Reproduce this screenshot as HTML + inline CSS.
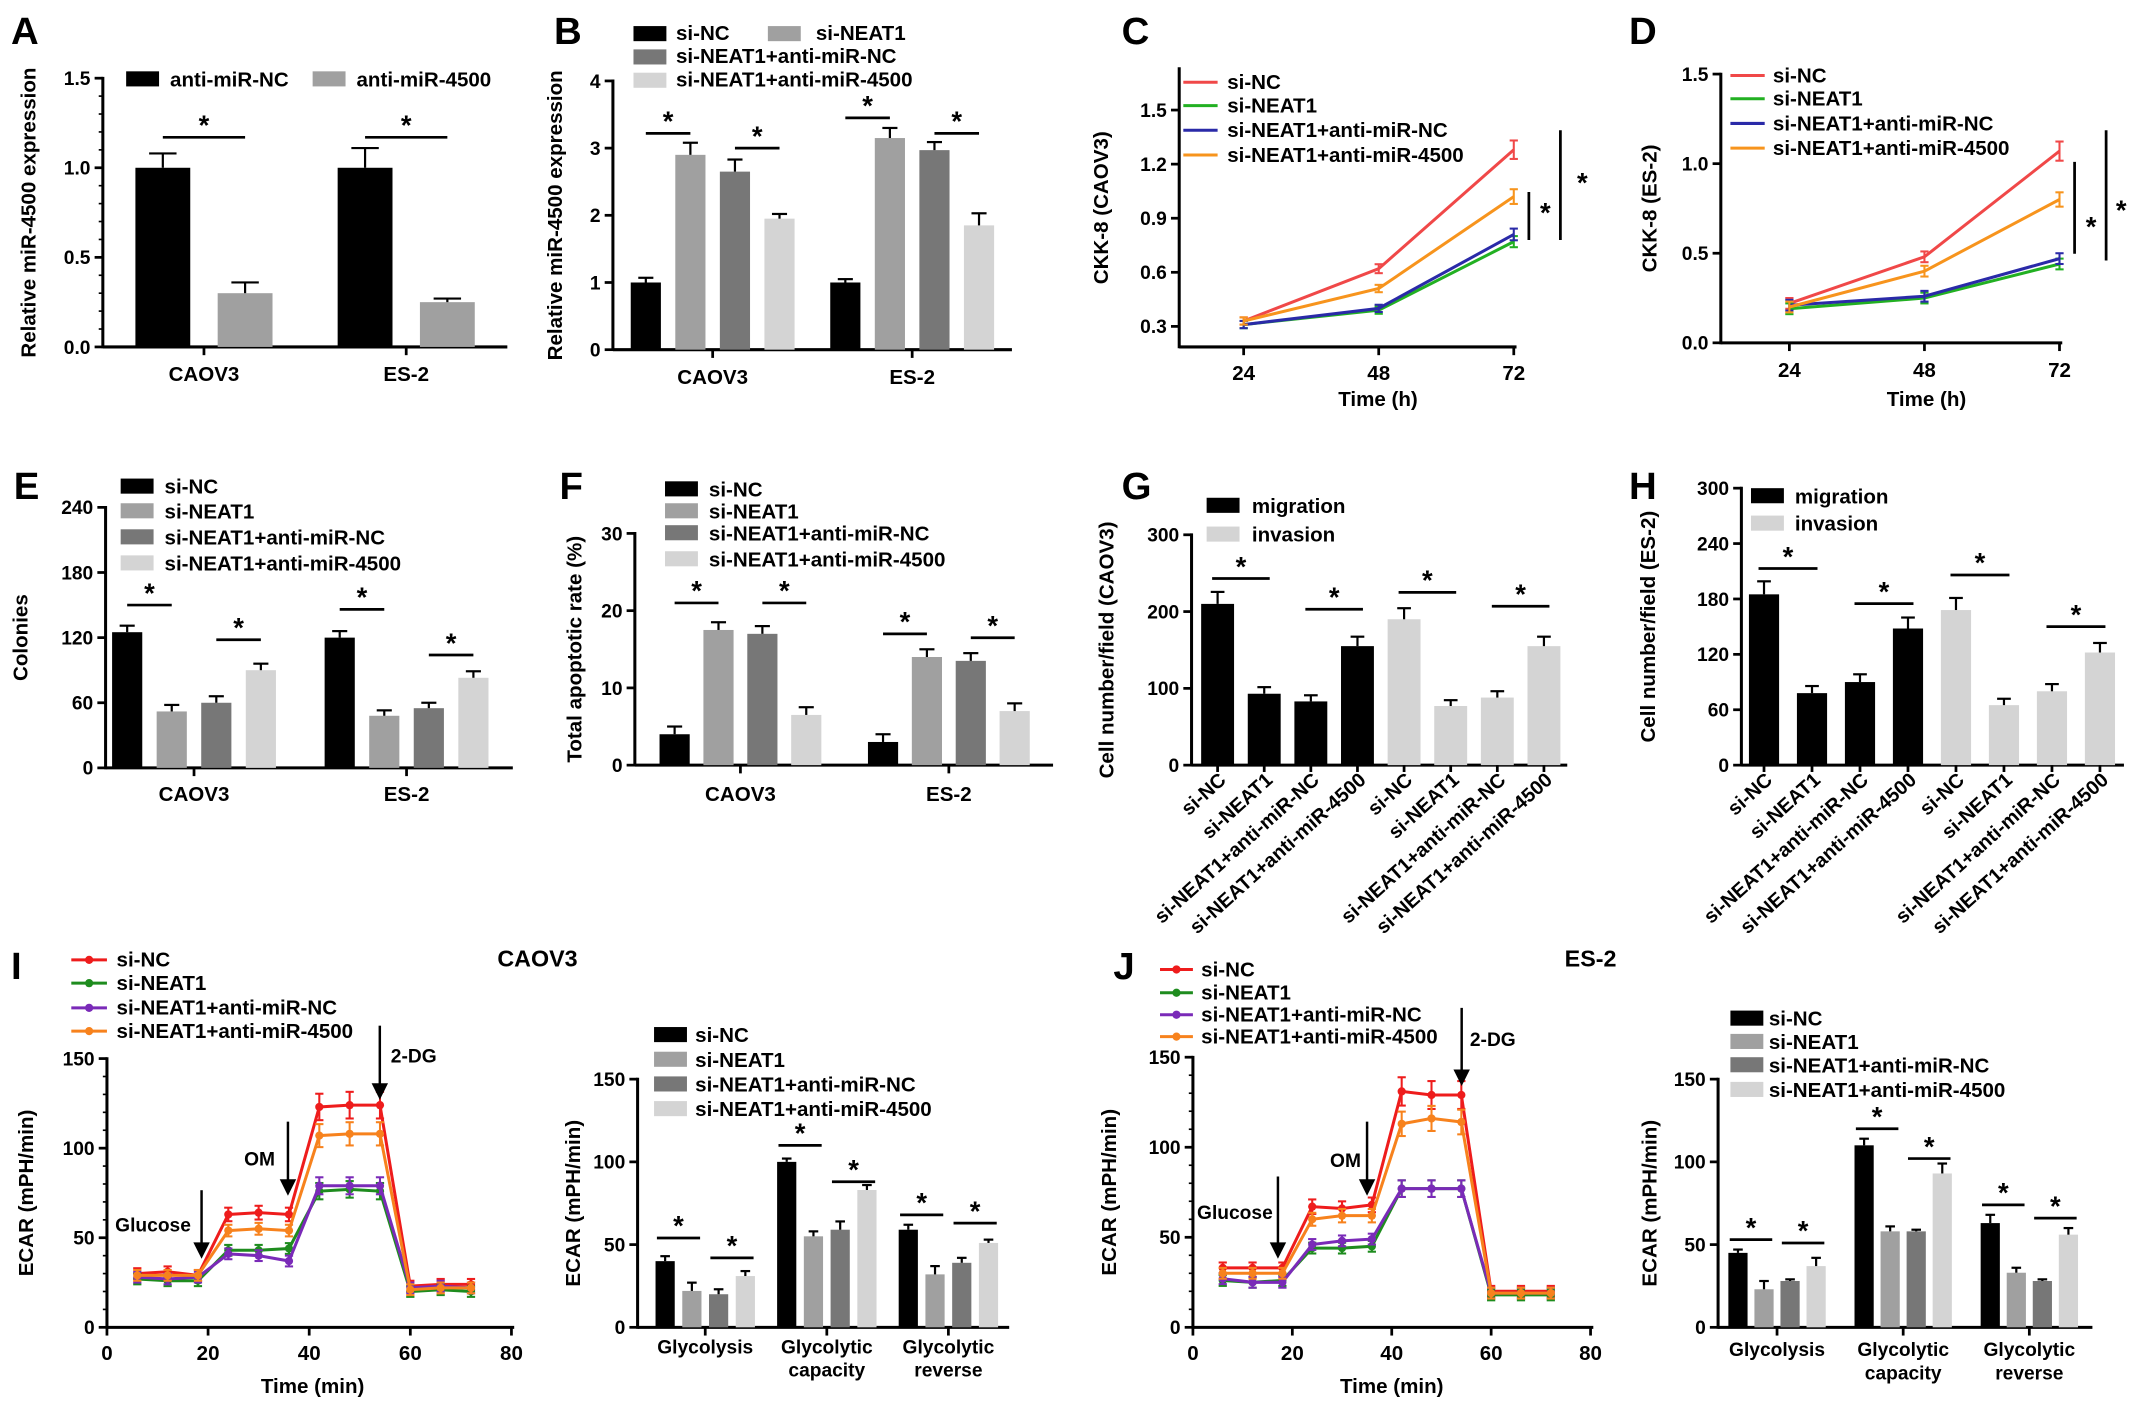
<!DOCTYPE html>
<html><head><meta charset="utf-8"><style>
html,body{margin:0;padding:0;background:#fff;}
svg{display:block;font-family:"Liberation Sans",Arial,sans-serif;font-weight:bold;}
</style></head><body>
<svg id="fig" xmlns="http://www.w3.org/2000/svg" width="2150" height="1411" viewBox="0 0 1568 1029"></svg>
<script>
// ---------- DATA ----------
const A_groups=['CAOV3','ES-2'];
const A_nc=[1.0,1.0], A_nc_err=[0.08,0.11];
const A_mir=[0.3,0.25], A_mir_err=[0.06,0.02];
const A_ticks=['0.0','0.5','1.0','1.5'];

const B_groups=['CAOV3','ES-2'];
const B_siNC=[1.0,1.0], B_siNEAT1=[2.9,3.15], B_mirNC=[2.65,2.97], B_mir4500=[1.95,1.85];
const B_ticks=['0','1','2','3','4'];

const C_time=[24,48,72];
const C_siNC=[0.33,0.62,1.28], C_siNEAT1=[0.31,0.39,0.77], C_mirNC=[0.31,0.40,0.81], C_mir4500=[0.33,0.51,1.02];
const C_ticks=['0.3','0.6','0.9','1.2','1.5'];

const D_time=[24,48,72];
const D_siNC=[0.22,0.48,1.07], D_siNEAT1=[0.19,0.25,0.44], D_mirNC=[0.21,0.26,0.47], D_mir4500=[0.20,0.40,0.80];
const D_ticks=['0.0','0.5','1.0','1.5'];

const E_groups=['CAOV3','ES-2'];
const E_siNC=[125,120], E_siNEAT1=[52,48], E_mirNC=[60,55], E_mir4500=[90,83];
const E_ticks=['0','60','120','180','240'];

const F_groups=['CAOV3','ES-2'];
const F_siNC=[4,3], F_siNEAT1=[17.5,14], F_mirNC=[17,13.5], F_mir4500=[6.5,7];
const F_ticks=['0','10','20','30'];

const G_cats=['si-NC','si-NEAT1','si-NEAT1+anti-miR-NC','si-NEAT1+anti-miR-4500','si-NC','si-NEAT1','si-NEAT1+anti-miR-NC','si-NEAT1+anti-miR-4500'];
const G_values=[210,93,83,155,190,77,88,155];
const G_ticks=['0','100','200','300'];

const H_cats=G_cats;
const H_values=[185,78,90,148,168,65,80,122];
const H_ticks=['0','60','120','180','240','300'];

const I_time=[6,12,18,24,30,36,42,48,54,60,66,72];
const I_siNC=[30,31,29,63,64,63,123,124,124,23,24,24];
const I_siNEAT1=[27,26,26,43,43,44,76,77,76,20,21,20];
const I_mirNC=[28,27,28,41,40,37,79,79,79,22,23,22];
const I_mir4500=[29,29,29,54,55,54,107,108,108,21,22,22];
const I_xticks=['0','20','40','60','80'];
const I_yticks=['0','50','100','150'];

const IB_groups=['Glycolysis','Glycolytic|capacity','Glycolytic|reverse'];
const IB_siNC=[40,100,59], IB_siNEAT1=[22,55,32], IB_mirNC=[20,59,39], IB_mir4500=[31,83,51];
const IB_ticks=['0','50','100','150'];

const J_time=I_time;
const J_siNC=[33,33,33,67,66,68,131,129,129,20,20,20];
const J_siNEAT1=[26,25,26,44,44,45,77,77,77,18,18,18];
const J_mirNC=[27,25,25,46,48,49,77,77,77,19,19,19];
const J_mir4500=[30,30,30,60,62,62,113,116,114,19,19,19];

const JB_groups=IB_groups;
const JB_siNC=[45,110,63], JB_siNEAT1=[23,58,33], JB_mirNC=[28,58,28], JB_mir4500=[37,93,56];

// ---------- HELPERS ----------
const svg=document.getElementById('fig');
const NS='http://www.w3.org/2000/svg';
function mk(tag,attrs,name,parent){
  const e=document.createElementNS(NS,tag);
  for(const k in attrs) e.setAttribute(k,attrs[k]);
  
  
  (parent||svg).appendChild(e);
  return e;
}
function txt(x,y,s,size,name,anchor,extra){
  const a=Object.assign({x:x,y:y,'font-size':size,'text-anchor':anchor||'start',fill:'#000'},extra||{});
  const t=mk('text',a,name); t.textContent=s; return t;
}
function line(x1,y1,x2,y2,w,name,col){return mk('line',{x1:x1,y1:y1,x2:x2,y2:y2,stroke:col||'#000','stroke-width':w||2},name);}
const COL=['#000000','#a0a0a0','#777777','#d4d4d4'];
const LCOL=['#f04848','#22b022','#2a2aa8','#f7941d'];
const ICOL=['#ee1c1c','#1e8c1e','#7a2ab8','#f7821d'];
const SER=['si-NC','si-NEAT1','si-NEAT1+anti-miR-NC','si-NEAT1+anti-miR-4500'];

function yAxis(p,ticks,title,tx){
  const sy=v=>p.y0-(v-p.vmin)/(p.vmax-p.vmin)*(p.y0-p.yT);
  line(p.ax,sy(p.vmin)+1,p.ax,p.yT-1,2.2,p.id+'-y-axis');
  ticks.forEach(t=>{const y=sy(+t);line(p.ax-6,y,p.ax,y,2,p.id+'-y-tick');txt(p.ax-9,y+5,t,14,p.id+'-y-tick-label','end');});
  if(p.minor){for(let v=p.vmin;v<=p.vmax+1e-9;v+=p.minor){line(p.ax-3,sy(v),p.ax,sy(v),1.2,p.id+'-y-minor-tick');}}
  txt(0,0,title,15,p.id+'-y-axis-title','middle',{transform:`translate(${tx},${(p.y0+p.yT)/2}) rotate(-90)`});
  return sy;
}
function legendBoxes(x,ys,labels,cols,id,tx){
  labels.forEach((l,i)=>{mk('rect',{x:x,y:ys[i]-6,width:24,height:11,fill:cols[i]},id+'-legend-swatch');txt(tx,ys[i]+5,l,15,id+'-legend-entry');});
}
function star(x1,x2,y,id){line(x1,y,x2,y,2,id+'-sig-line');txt((x1+x2)/2,y-2,'*',20,id+'-sig-star','middle');}

function groupedBars(p,series,errs,groups,ticks,title,tx,sigs,labelY){
  const sy=yAxis(p,ticks,title,tx);
  const gw=(p.b1-p.b0)/groups.length;
  line(p.ax,p.y0,p.b1,p.y0,2.2,p.id+'-x-axis');
  const k=series.length, centers=[];
  groups.forEach((g,gi)=>{
    const gc=p.b0+(gi+0.5)*gw;
    line(gc,p.y0,gc,p.y0+6,2,p.id+'-x-tick');
    const parts=g.split('|');
    parts.forEach((s,j)=>txt(gc,labelY+j*17,s,p.lfs||15,p.id+'-x-tick-label','middle'));
    series.forEach((vals,si)=>{
      const cx=gc+(si-(k-1)/2)*p.pitch; centers.push(cx);
      const v=vals[gi], y=sy(v), e=(errs?errs[si][gi]:0);
      mk('rect',{x:cx-p.bw/2,y:y,width:p.bw,height:p.y0-y,fill:p.cols[si]},p.id+'-bar-'+SER[si].toLowerCase().replace(/[^a-z0-9]+/g,'-')+'-'+gi);
      if(e){line(cx,y,cx,sy(v+e),1.6,p.id+'-error-bar');line(cx-p.bw/4,sy(v+e),cx+p.bw/4,sy(v+e),1.6,p.id+'-error-cap');}
    });
  });
  const ext=p.sigExt||0;
  (sigs||[]).forEach(s=>{const a=centers[s[0]],b=centers[s[1]];star(a-ext,b+ext,sy(s[2]),p.id);});
  return sy;
}
function singleBars(p,values,cats,cols,ticks,title,tx,sigs){
  const sy=yAxis(p,ticks,title,tx);
  line(p.ax,p.y0,p.b1,p.y0,2.2,p.id+'-x-axis');
  const gw=(p.b1-p.b0)/values.length, centers=[];
  values.forEach((v,i)=>{
    const cx=p.b0+(i+0.5)*gw; centers.push(cx); const y=sy(v);
    mk('rect',{x:cx-p.bw/2,y:y,width:p.bw,height:p.y0-y,fill:cols[i]},p.id+'-bar-'+i);
    line(cx,y,cx,sy(v+v*0.06+3),1.6,p.id+'-error-bar');line(cx-5,sy(v+v*0.06+3),cx+5,sy(v+v*0.06+3),1.6,p.id+'-error-cap');
    line(cx,p.y0,cx,p.y0+5,2,p.id+'-x-tick');
    txt(cx+7,p.y0+12,cats[i],14.5,p.id+'-x-tick-label','end',{transform:`rotate(-42 ${cx+7} ${p.y0+12})`});
  });
  sigs.forEach(s=>{star(centers[s[0]]-4,centers[s[1]]+4,sy(s[2]),p.id);});
}
function lineChart(p,times,series,cols,ticks,xticks,title,tx,markers,errFrac){
  const sy=yAxis(p,ticks,title,tx);
  const sx=t=>p.x0+(t-p.tmin)/(p.tmax-p.tmin)*(p.x1-p.x0);
  line(p.ax,p.y0,p.x1+2,p.y0,2.2,p.id+'-x-axis');
  xticks.forEach(t=>{line(sx(+t),p.y0,sx(+t),p.y0+6,2,p.id+'-x-tick');txt(sx(+t),p.y0+24,t,15,p.id+'-x-tick-label','middle');});
  series.forEach((vals,si)=>{
    const pts=vals.map((v,i)=>sx(times[i])+','+sy(v)).join(' ');
    mk('polyline',{points:pts,fill:'none',stroke:cols[si],'stroke-width':2.2},p.id+'-line-'+SER[si].toLowerCase().replace(/[^a-z0-9]+/g,'-'));
    vals.forEach((v,i)=>{
      const x=sx(times[i]), e=Math.max(v*errFrac,p.emin);
      line(x,sy(v-e),x,sy(v+e),1.5,p.id+'-error-bar',cols[si]);
      line(x-3,sy(v+e),x+3,sy(v+e),1.5,p.id+'-error-cap',cols[si]);
      line(x-3,sy(v-e),x+3,sy(v-e),1.5,p.id+'-error-cap',cols[si]);
      if(markers) mk('circle',{cx:x,cy:sy(v),r:3,fill:cols[si]},p.id+'-point');
    });
  });
  return {sx,sy};
}
function lineLegend(x1,x2,tx,ys,cols,id,markers){
  SER.forEach((s,i)=>{line(x1,ys[i],x2,ys[i],2.2,id+'-legend-line',cols[i]);
    if(markers) mk('circle',{cx:(x1+x2)/2,cy:ys[i],r:3,fill:cols[i]},id+'-legend-marker');
    txt(tx,ys[i]+5,s,15,id+'-legend-entry');});
}
function arrow(x,y1,y2,id){line(x,y1,x,y2-8,1.8,id+'-arrow-shaft');mk('polygon',{points:`${x-6},${y2-12} ${x+6},${y2-12} ${x},${y2}`,fill:'#000'},id+'-arrow-head');}

[['A',8,32],['B',404,32],['C',818,32],['D',1188,32],['E',10,364],['F',408,364],['G',818,364],['H',1188,364],['I',8,714],['J',812,714]].forEach(l=>txt(l[1],l[2],l[0],28,'panel-label-'+l[0].toLowerCase()));

// ---------- A ----------
groupedBars({id:'a',ax:75,b0:75,b1:370,y0:253,yT:57,vmin:0,vmax:1.5,pitch:60,bw:40,cols:[COL[0],COL[1]],minor:0.1},
  [A_nc,A_mir],[A_nc_err,A_mir_err],A_groups,A_ticks,'Relative miR-4500 expression',26,[[0,1,1.17],[2,3,1.17]],278);
mk('rect',{x:92,y:52,width:24,height:11,fill:COL[0]},'a-legend-swatch');txt(124,63,'anti-miR-NC',15,'a-legend-entry');
mk('rect',{x:228,y:52,width:24,height:11,fill:COL[1]},'a-legend-swatch');txt(260,63,'anti-miR-4500',15,'a-legend-entry');

// ---------- B ----------
groupedBars({id:'b',ax:447,b0:447,b1:738,y0:255,yT:59,vmin:0,vmax:4,pitch:32.5,bw:22,cols:COL},
  [B_siNC,B_siNEAT1,B_mirNC,B_mir4500],[[0.07,0.05],[0.18,0.15],[0.18,0.12],[0.07,0.18]],B_groups,B_ticks,'Relative miR-4500 expression',410,[[0,1,3.22],[2,3,3.0],[4,5,3.45],[6,7,3.22]],280);
mk('rect',{x:462,y:19,width:24,height:11,fill:COL[0]},'b-legend-swatch');txt(493,29,'si-NC',15,'b-legend-entry');
mk('rect',{x:560,y:19,width:24,height:11,fill:COL[1]},'b-legend-swatch');txt(595,29,'si-NEAT1',15,'b-legend-entry');
mk('rect',{x:462,y:36,width:24,height:11,fill:COL[2]},'b-legend-swatch');txt(493,46,'si-NEAT1+anti-miR-NC',15,'b-legend-entry');
mk('rect',{x:462,y:53,width:24,height:11,fill:COL[3]},'b-legend-swatch');txt(493,63,'si-NEAT1+anti-miR-4500',15,'b-legend-entry');

// ---------- C ----------
lineChart({id:'c',ax:860,x0:907,x1:1104,tmin:24,tmax:72,y0:253,yT:50,vmin:0.186,vmax:1.73,emin:0.02},
  C_time,[C_siNC,C_siNEAT1,C_mirNC,C_mir4500],LCOL,C_ticks,[],'CKK-8 (CAOV3)',808,false,0.04);
C_time.forEach((t,i)=>{const x=907+i*98.5;line(x,253,x,259,2,'c-x-tick');txt(x,277,String(t),15,'c-x-tick-label','middle');});
txt(1005,296,'Time (h)',15,'c-x-axis-title','middle');
lineLegend(863,888,895,[60,77,95,113],LCOL,'c',false);
line(1115,140,1115,175,2,'c-sig-bracket');txt(1127,162,'*',20,'c-sig-star','middle');
line(1138,95,1138,175,2,'c-sig-bracket');txt(1154,140,'*',20,'c-sig-star','middle');

// ---------- D ----------
lineChart({id:'d',ax:1255,x0:1305,x1:1502,tmin:24,tmax:72,y0:250,yT:54,vmin:0,vmax:1.5,emin:0.03},
  D_time,[D_siNC,D_siNEAT1,D_mirNC,D_mir4500],LCOL,D_ticks,[],'CKK-8 (ES-2)',1208,false,0.05);
D_time.forEach((t,i)=>{const x=1305+i*98.5;line(x,250,x,256,2,'d-x-tick');txt(x,275,String(t),15,'d-x-tick-label','middle');});
txt(1405,296,'Time (h)',15,'d-x-axis-title','middle');
lineLegend(1262,1287,1293,[55,72,90,108],LCOL,'d',false);
line(1513,118,1513,185,2,'d-sig-bracket');txt(1525,172,'*',20,'d-sig-star','middle');
line(1536,95,1536,190,2,'d-sig-bracket');txt(1547,160,'*',20,'d-sig-star','middle');

// ---------- E ----------
groupedBars({id:'e',ax:77,b0:64,b1:374,y0:560,yT:370,vmin:0,vmax:240,pitch:32.5,bw:22,cols:COL},
  [E_siNC,E_siNEAT1,E_mirNC,E_mir4500],[[6,6],[6,5],[6,5],[6,6]],E_groups,E_ticks,'Colonies',20,[[0,1,150],[2,3,118],[4,5,146],[6,7,104]],584);
legendBoxes(88,[355,373,392,411],SER,COL,'e',120);

// ---------- F ----------
groupedBars({id:'f',ax:463,b0:464,b1:768,y0:558,yT:389,vmin:0,vmax:30,pitch:32,bw:22,cols:COL},
  [F_siNC,F_siNEAT1,F_mirNC,F_mir4500],[[1,1],[1,1],[1,1],[1,1]],F_groups,F_ticks,'Total apoptotic rate (%)',424,[[0,1,21],[2,3,21],[4,5,17],[6,7,16.5]],584);
legendBoxes(485,[357,373,389,408],SER,COL,'f',517);

// ---------- G ----------
singleBars({id:'g',ax:869,b0:871,b1:1143,y0:558,yT:390,vmin:0,vmax:300,bw:24},
  G_values,G_cats,[COL[0],COL[0],COL[0],COL[0],COL[3],COL[3],COL[3],COL[3]],G_ticks,'Cell number/field (CAOV3)',812,[[0,1,243],[2,3,203],[4,5,225],[6,7,207]]);
mk('rect',{x:880,y:363,width:24,height:11,fill:COL[0]},'g-legend-swatch');txt(913,374,'migration',15,'g-legend-entry');
mk('rect',{x:880,y:384,width:24,height:11,fill:COL[3]},'g-legend-swatch');txt(913,395,'invasion',15,'g-legend-entry');

// ---------- H ----------
singleBars({id:'h',ax:1270,b0:1269,b1:1549,y0:558,yT:356,vmin:0,vmax:300,bw:22},
  H_values,H_cats,[COL[0],COL[0],COL[0],COL[0],COL[3],COL[3],COL[3],COL[3]],H_ticks,'Cell number/field (ES-2)',1207,[[0,1,213],[2,3,175],[4,5,206],[6,7,150]]);
mk('rect',{x:1277,y:356,width:24,height:11,fill:COL[0]},'h-legend-swatch');txt(1309,367,'migration',15,'h-legend-entry');
mk('rect',{x:1277,y:376,width:24,height:11,fill:COL[3]},'h-legend-swatch');txt(1309,387,'invasion',15,'h-legend-entry');

// ---------- I ----------
lineChart({id:'i',ax:78,x0:78,x1:373,tmin:0,tmax:80,y0:968,yT:772,vmin:0,vmax:150,emin:3,minor:10},
  I_time,[I_siNC,I_siNEAT1,I_mirNC,I_mir4500],ICOL,I_yticks,I_xticks,'ECAR (mPH/min)',24,true,0.06);
txt(228,1016,'Time (min)',15,'i-x-axis-title','middle');
lineLegend(52,78,85,[700,717,735,752],ICOL,'i',true);
txt(392,705,'CAOV3',17,'i-chart-title','middle');
txt(84,898,'Glucose',14,'i-glucose-label');arrow(147,868,918,'i-glucose');
txt(178,850,'OM',14,'i-om-label');arrow(210,818,872,'i-om');
txt(285,775,'2-DG',14,'i-2dg-label');arrow(277,748,802,'i-2dg');

groupedBars({id:'ib',ax:465,b0:470,b1:736,y0:968,yT:787,vmin:0,vmax:150,pitch:19.5,bw:14,cols:COL,lfs:14,sigExt:6},
  [IB_siNC,IB_siNEAT1,IB_mirNC,IB_mir4500],[[3,2,3],[5,3,5],[3,5,3],[3,3,2]],IB_groups,IB_ticks,'ECAR (mPH/min)',423,[[0,1,54],[2,3,42],[4,5,110],[6,7,88],[8,9,68],[10,11,63]],987);
legendBoxes(477,[755,773,791,809],SER,COL,'ib',507);

// ---------- J ----------
lineChart({id:'j',ax:870,x0:870,x1:1160,tmin:0,tmax:80,y0:968,yT:771,vmin:0,vmax:150,emin:3,minor:10},
  J_time,[J_siNC,J_siNEAT1,J_mirNC,J_mir4500],ICOL,I_yticks,I_xticks,'ECAR (mPH/min)',814,true,0.06);
txt(1015,1016,'Time (min)',15,'j-x-axis-title','middle');
lineLegend(846,870,876,[707,724,740,756],ICOL,'j',true);
txt(1160,705,'ES-2',17,'j-chart-title','middle');
txt(873,889,'Glucose',14,'j-glucose-label');arrow(932,858,918,'j-glucose');
txt(970,851,'OM',14,'j-om-label');arrow(997,818,872,'j-om');
txt(1072,763,'2-DG',14,'j-2dg-label');arrow(1066,735,792,'j-2dg');

groupedBars({id:'jb',ax:1253,b0:1250,b1:1526,y0:968,yT:787,vmin:0,vmax:150,pitch:19,bw:14,cols:COL,lfs:14,sigExt:6},
  [JB_siNC,JB_siNEAT1,JB_mirNC,JB_mir4500],[[2,4,5],[5,3,3],[1,1,1],[5,6,4]],JB_groups,IB_ticks,'ECAR (mPH/min)',1208,[[0,1,53],[2,3,51],[4,5,120],[6,7,102],[8,9,74],[10,11,66]],989);
legendBoxes(1262,[743,760,777,795],SER,COL,'jb',1290);
</script>
</body></html>
